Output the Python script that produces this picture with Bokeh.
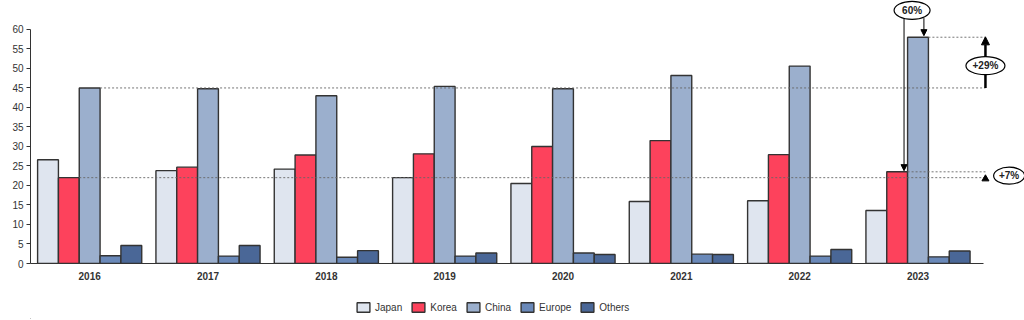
from bokeh.plotting import figure
from bokeh.layouts import column
from bokeh.models import (ColumnDataSource, Range1d, FixedTicker, Legend, LegendItem,
                          Arrow, NormalHead)
from bokeh.transform import dodge
from bokeh.core.properties import value
from bokeh.embed import file_html
from bokeh.resources import INLINE

years = ["2016", "2017", "2018", "2019", "2020", "2021", "2022", "2023"]
japan = [26.6, 23.8, 24.2, 22.0, 20.5, 15.9, 16.1, 13.6]
korea = [22.0, 24.7, 27.8, 28.1, 30.0, 31.5, 27.9, 23.5]
china = [45.0, 44.8, 43.0, 45.4, 44.8, 48.2, 50.6, 58.0]
europe = [2.0, 1.9, 1.6, 1.9, 2.7, 2.4, 1.9, 1.7]
others = [4.6, 4.6, 3.3, 2.7, 2.3, 2.3, 3.6, 3.2]
series_names = ["Japan", "Korea", "China", "Europe", "Others"]
colors = ["#dfe5ef", "#fd425c", "#9bafcd", "#6a89b9", "#4a6797"]
yticks = [0, 5, 10, 15, 20, 25, 30, 35, 40, 45, 50, 55, 60]

FONT = "Liberation Sans"
TXT = "#333333"
EDGE = "#333333"

xc = [i + 0.5 for i in range(len(years))]
src = ColumnDataSource(dict(x=xc, Japan=japan, Korea=korea, China=china,
                            Europe=europe, Others=others))

p = figure(width=1024, height=290, output_backend="svg", toolbar_location=None,
           x_range=Range1d(0, 8.40), y_range=Range1d(0, 66.9),
           min_border_left=30, min_border_right=0, min_border_top=2,
           min_border_bottom=27)
p.outline_line_color = None
p.xgrid.visible = False
p.ygrid.visible = False

bw = 0.176
for k, (name, col) in enumerate(zip(series_names, colors)):
    p.vbar(x=dodge("x", (k - 2) * bw, range=p.x_range), top=name, width=bw,
           source=src, fill_color=col, line_color=EDGE, line_width=1.4)

# axes
p.yaxis.ticker = FixedTicker(ticks=yticks)
p.yaxis.bounds = (0, 60)
p.yaxis.axis_line_color = TXT
p.yaxis.major_tick_line_color = TXT
p.yaxis.major_tick_out = 4
p.yaxis.major_tick_in = 0
p.yaxis.minor_tick_line_color = None
p.yaxis.major_label_text_font = FONT
p.yaxis.major_label_text_font_size = "10px"
p.yaxis.major_label_text_color = TXT
p.yaxis.major_label_standoff = 3

p.xaxis.ticker = FixedTicker(ticks=xc)
p.xaxis.major_label_overrides = {x: y for x, y in zip(xc, years)}
p.xaxis.bounds = (0, 8.05)
p.xaxis.axis_line_color = TXT
p.xaxis.major_tick_line_color = None
p.xaxis.major_tick_out = 0
p.xaxis.major_tick_in = 0
p.xaxis.minor_tick_line_color = None
p.xaxis.major_label_text_font = FONT
p.xaxis.major_label_text_font_size = "10px"
p.xaxis.major_label_text_color = TXT
p.xaxis.major_label_text_font_style = "bold"
p.xaxis.major_label_standoff = 8

# reference dashed lines
xr = 8.07
dash = dict(line_color="#666666", line_width=0.9, line_dash="2 2")
p.segment(x0=[xc[0] + bw / 2, xc[0] - bw / 2, xc[-1] + bw / 2, xc[-1] - bw / 2],
          y0=[china[0], korea[0], china[-1], korea[-1]],
          x1=[xr, xr, xr, xr],
          y1=[china[0], korea[0], china[-1], korea[-1]], **dash)

# +29% arrow
p.add_layout(Arrow(end=NormalHead(size=8, fill_color="black", line_color="black"),
                   x_start=xr, y_start=china[0], x_end=xr, y_end=china[-1] + 0.1,
                   line_width=2.5, line_color="black"))
# 60% arrows
p.add_layout(Arrow(end=NormalHead(size=6, fill_color="black", line_color="black"),
                   x_start=xc[-1] - 0.118, y_start=62.9, x_end=xc[-1] - 0.118, y_end=korea[-1] + 0.3,
                   line_width=1, line_color="black"))
p.add_layout(Arrow(end=NormalHead(size=6, fill_color="black", line_color="black"),
                   x_start=xc[-1] + 0.05, y_start=62.9, x_end=xc[-1] + 0.05, y_end=china[-1] + 0.4,
                   line_width=1, line_color="black"))
# +7% triangle
p.scatter(x=[xr], y=[korea[0] - 0.3], marker="triangle", size=7, fill_color="black",
          line_color="black")

# ellipses with labels
ex = [xc[-1] - 0.05, xr, 8.27]
ey = [64.9, 50.7, 22.5]
ew = [36, 39, 31]
eh = [18, 18, 17]
et = ["60%", "+29%", "+7%"]
e = p.ellipse(x=ex, y=ey, width=ew, height=eh, width_units="screen", height_units="screen",
              fill_color="white", line_color="black", line_width=1.2)
e.level = "overlay"
t = p.text(x=ex, y=ey, text=et, text_align="center", text_baseline="middle",
           text_font=value(FONT), text_font_size="10px", text_font_style="bold",
           text_color="#222222")
t.level = "overlay"

# legend strip
lg = figure(width=1024, height=29, output_backend="svg", toolbar_location=None,
            x_range=Range1d(0, 1), y_range=Range1d(0, 1),
            x_axis_location=None, y_axis_location=None,
            min_border_left=0, min_border_right=0, min_border_top=0, min_border_bottom=0)
lg.outline_line_color = None
lg.xgrid.visible = False
lg.ygrid.visible = False
items = []
for name, col in zip(series_names, colors):
    # zero-height off-screen proxy glyph, only used for the legend swatch
    r = lg.vbar(x=[-5], top=[0], width=0.01, fill_color=col, line_color=EDGE, line_width=1.4)
    items.append(LegendItem(label=name, renderers=[r]))
legend = Legend(items=items, orientation="horizontal", location=(325, 6),
                label_text_font=FONT, label_text_font_size="10px", label_text_color=TXT,
                glyph_width=16, glyph_height=12, spacing=8, label_standoff=4,
                label_height=12, border_line_color=None, background_fill_alpha=0,
                padding=3, margin=0)
lg.add_layout(legend)

open("out.html", "w").write(file_html(column(p, lg, spacing=0), INLINE))
